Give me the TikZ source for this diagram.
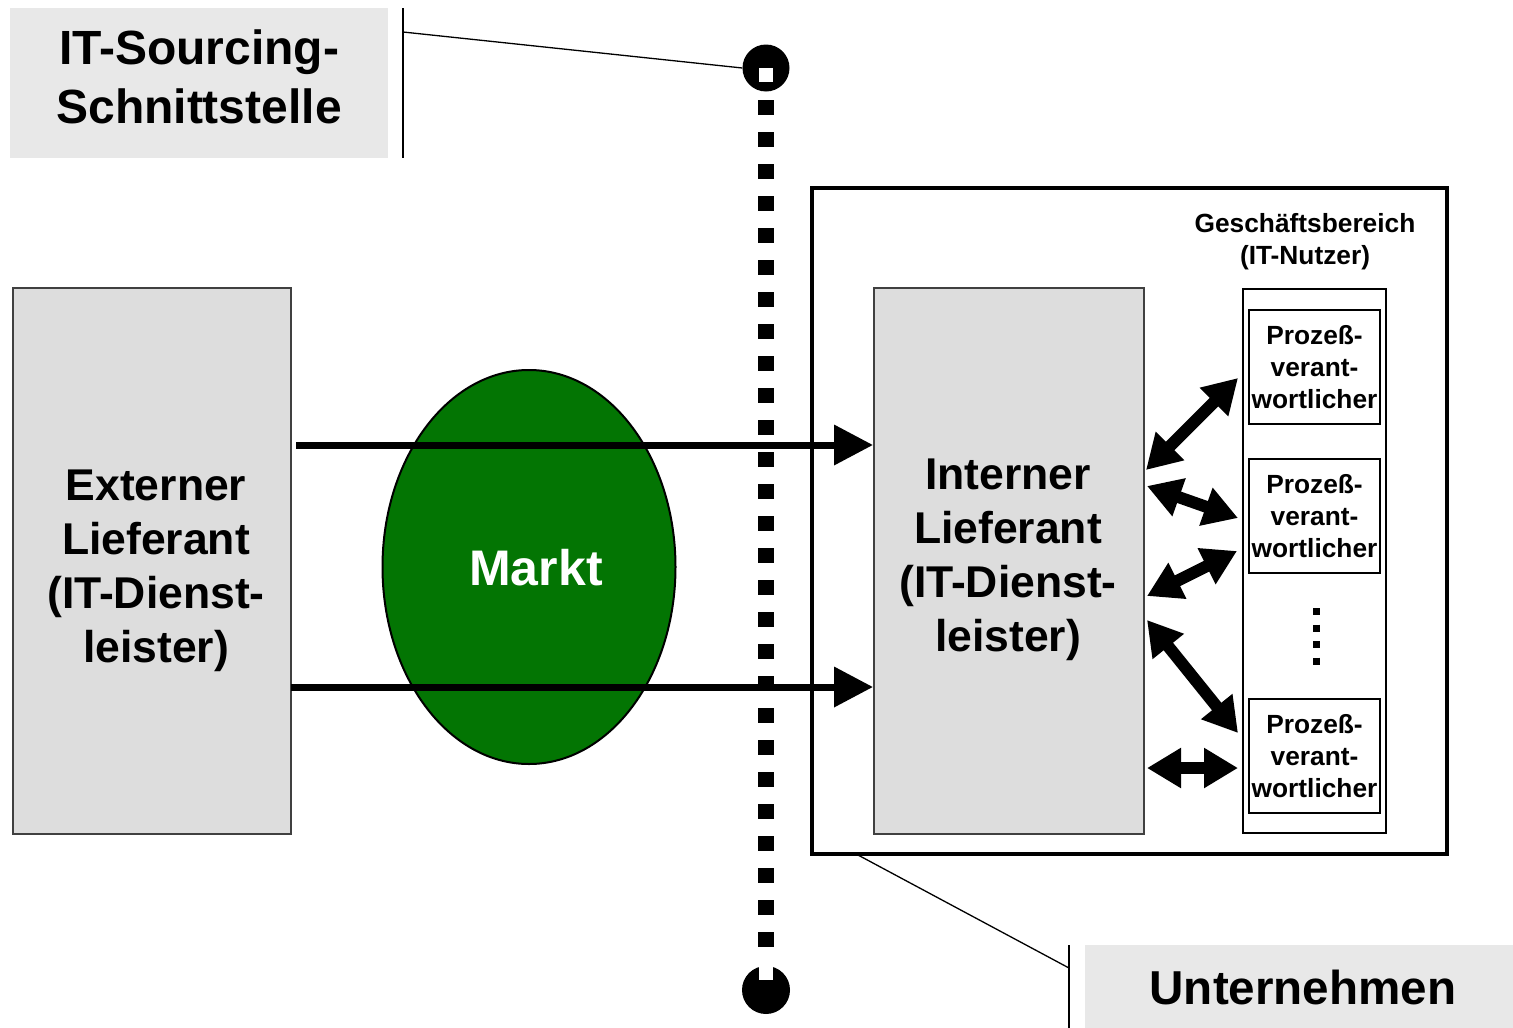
\documentclass[tikz,border=0pt]{standalone}
\usepackage{fontspec}
\setmainfont{Liberation Sans}
\usetikzlibrary{arrows.meta,shapes.geometric}
\definecolor{lblgray}{HTML}{E8E8E8}
\definecolor{boxgray}{HTML}{DDDDDD}
\definecolor{marktgreen}{HTML}{037503}
\begin{document}
\begin{tikzpicture}[x=1pt,y=-1pt,
  lblbox/.style={fill=lblgray, inner sep=0pt},
  graybox/.style={draw=black!75, line width=2pt, fill=boxgray, inner sep=0pt},
  bigtext/.style={font=\bfseries\fontsize{44.5}{54}\selectfont, align=center},
  pbox/.style={draw, line width=2pt, fill=white, minimum width=131pt, minimum height=114pt, inner sep=0pt, align=center, font=\bfseries\fontsize{26.3}{32}\selectfont},
  blob/.style={circle, fill=black, minimum size=47pt, inner sep=0pt},
  leader/.style={line width=1.3pt},
  flow/.style={line width=7pt, -{Triangle[length=39pt,width=39pt]}},
  dbl/.style={line width=12pt, {Triangle[length=34pt,width=38pt]}-{Triangle[length=34pt,width=38pt]}}
]
\useasboundingbox (0,0) rectangle (1513,1028);

% label top-left
\node[lblbox, minimum width=378pt, minimum height=150pt] (srcbox) at (199,83) {};
\node[font=\bfseries\fontsize{48}{59}\selectfont, align=center] (srctxt) at (199,77) {IT-Sourcing-\\Schnittstelle};
\coordinate (srcT) at (403,8);
\coordinate (srcB) at (403,158);
\coordinate (srcL) at (403,32);
\draw[leader] (srcT) -- (srcB);

% dashed boundary
\coordinate (dashT) at (766,100);
\coordinate (dashB) at (766,955);
\draw[line width=16pt, dash pattern=on 15pt off 17pt] (dashT) -- (dashB);
\node[blob] (ctop) at (766,68) {};
\node[blob, minimum size=48pt] (cbot) at (766,990) {};
\fill[white] (759,68) rectangle (773,82);
\fill[white] (759,965) rectangle (773,980);
\draw[leader] (srcL) -- (ctop.west);

% external supplier
\node[graybox, minimum width=278pt, minimum height=546pt] (ext) at (152,561) {};
\node[bigtext] (exttxt) at (156,571) {Externer\\Lieferant\\(IT-Dienst-\\leister)};

% market
\node[ellipse, draw, line width=2pt, fill=marktgreen, minimum width=293pt, minimum height=394pt, inner sep=0pt] (markt) at (529,567) {};
\node[font=\bfseries\fontsize{50}{60}\selectfont, text=white] (markttxt) at (536,568) {Markt};

% enterprise frame
\node[draw, line width=4pt, minimum width=635pt, minimum height=666pt, inner sep=0pt] (firm) at (1129.5,521) {};
\node[graybox, minimum width=270pt, minimum height=546pt] (int) at (1009,561) {};
\node[bigtext] (inttxt) at (1008,560) {Interner\\Lieferant\\(IT-Dienst-\\leister)};

% flows
\coordinate (f1s) at (296,445);
\coordinate (f2s) at (291,687);
\draw[flow] (f1s) -- (f1s -| int.west);
\draw[flow] (f2s) -- (f2s -| int.west);

% business unit
\node[font=\bfseries\fontsize{26.3}{32}\selectfont, align=center] (gbtxt) at (1305,242) {Geschäftsbereich\\(IT-Nutzer)};
\node[draw, line width=2pt, minimum width=143pt, minimum height=544pt, inner sep=0pt] (col) at (1314.5,561) {};
\node[pbox] (p1) at (1314.5,367) {\raisebox{-2pt}{\parbox{131pt}{\centering Prozeß-\\verant-\\wortlicher}}};
\node[pbox] (p2) at (1314.5,516) {\raisebox{-2pt}{\parbox{131pt}{\centering Prozeß-\\verant-\\wortlicher}}};
\node[pbox] (p3) at (1314.5,756) {\raisebox{-2pt}{\parbox{131pt}{\centering Prozeß-\\verant-\\wortlicher}}};
\coordinate (dotT) at (1316,608);
\coordinate (dotB) at (1316,665);
\draw[line width=7pt, dash pattern=on 7pt off 9.5pt] (dotT) -- (dotB);

% double arrows
\coordinate (d1a) at (1146,470); \coordinate (d1b) at (1238,378);
\coordinate (d2a) at (1147,486); \coordinate (d2b) at (1238,518);
\coordinate (d3a) at (1147,596); \coordinate (d3b) at (1237,551);
\coordinate (d4a) at (1147,620); \coordinate (d4b) at (1238,733);
\coordinate (d5a) at (1147,768); \coordinate (d5b) at (1238,768);
\draw[dbl] (d1a) -- (d1b);
\draw[dbl] (d2a) -- (d2b);
\draw[dbl] (d3a) -- (d3b);
\draw[dbl] (d4a) -- (d4b);
\draw[dbl] (d5a) -- (d5b);

% label bottom-right
\node[lblbox, minimum width=428pt, minimum height=83pt] (unbox) at (1299,986.5) {};
\node[font=\bfseries\fontsize{47.6}{57}\selectfont] (untxt) at (1303,987) {Unternehmen};
\coordinate (unT) at (1069,945);
\coordinate (unB) at (1069,1028);
\coordinate (unL) at (1069,968);
\coordinate (firmL) at (858,855);
\draw[leader] (unT) -- (unB);
\draw[leader] (firmL) -- (unL);
\end{tikzpicture}
\end{document}
